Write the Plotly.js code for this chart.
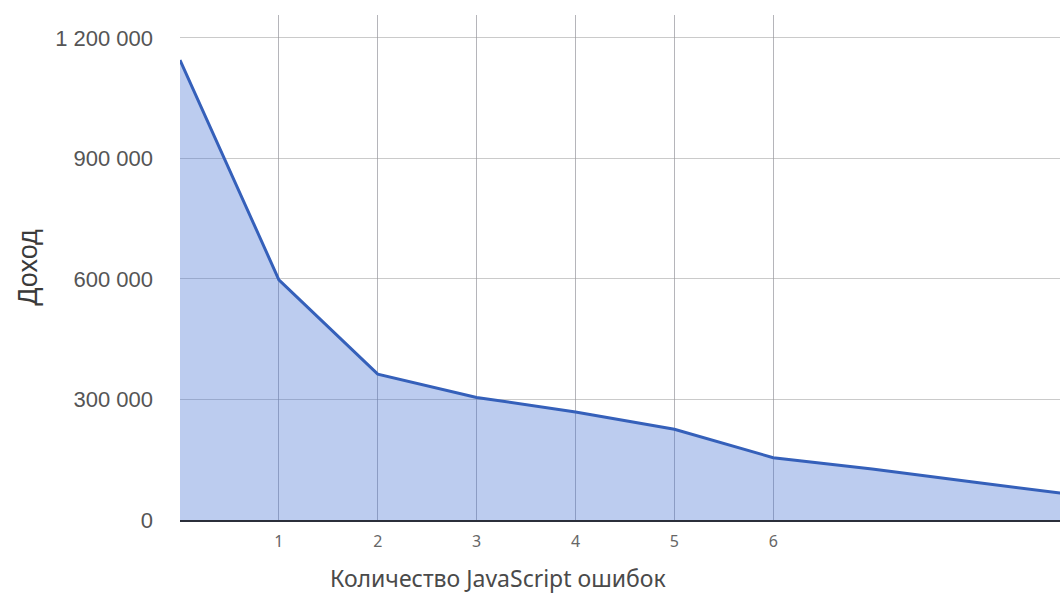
<!DOCTYPE html>
<html>
<head>
<meta charset="utf-8">
<script src="https://cdn.plot.ly/plotly-3.0.1.min.js"></script>
<style>html,body{margin:0;padding:0;background:#fff;}#chart{width:1060px;height:608px;}</style>
</head>
<body>
<div id="chart"></div>
<script>
const errors = [0, 1, 2, 3, 4, 5, 6, 7, 8, 9];
const revenue = [1145000, 598000, 363000, 305000, 269000, 226000, 155000, 127000, 95000, 64000];
const xTicks = [1, 2, 3, 4, 5, 6];
const yTicks = [0, 300000, 600000, 900000, 1200000];
const xTitle = 'Количество JavaScript ошибок';
const yTitle = 'Доход';

const trace = {
  x: errors,
  y: revenue,
  type: 'scatter',
  mode: 'lines',
  fill: 'tozeroy',
  fillcolor: 'rgba(70,115,210,0.36)',
  line: {color: '#3560ba', width: 3},
  hoverinfo: 'x+y'
};

const layout = {
  width: 1060,
  height: 608,
  margin: {l: 180, r: 0, t: 15, b: 88},
  paper_bgcolor: '#ffffff',
  plot_bgcolor: '#ffffff',
  separators: '. ',
  showlegend: false,
  xaxis: {
    range: [0, 8.9],
    tickvals: xTicks,
    ticktext: xTicks.map(String),
    showgrid: true,
    gridcolor: 'rgba(120,120,130,0.55)',
    gridwidth: 1,
    zeroline: false,
    showline: true,
    linecolor: '#2b2f3a',
    linewidth: 2,
    ticks: '',
    ticklabelstandoff: 6,
    tickfont: {family: 'Noto Sans, sans-serif', size: 16, color: '#666'},
    fixedrange: true
  },
  yaxis: {
    range: [0, 1257000],
    tickvals: yTicks,
    tickformat: ',d',
    showgrid: true,
    gridcolor: 'rgba(150,150,150,0.5)',
    gridwidth: 1,
    zeroline: false,
    showline: false,
    ticks: '',
    ticklabelstandoff: 26,
    tickfont: {family: 'Arial, Liberation Sans, sans-serif', size: 22, color: '#555'},
    title: {text: yTitle, font: {family: 'Arial, Liberation Sans, sans-serif', size: 27, color: '#3a3a3a'}, standoff: 9},
    fixedrange: true
  },
  annotations: [{
    text: xTitle,
    xref: 'paper', yref: 'paper',
    x: 0.361, y: -0.115,
    xanchor: 'center', yanchor: 'middle',
    showarrow: false,
    font: {family: 'Noto Sans, sans-serif', size: 23, color: '#4a4a4a'}
  }]
};

Plotly.newPlot('chart', [trace], layout, {displayModeBar: false, staticPlot: true});
</script>
</body>
</html>
